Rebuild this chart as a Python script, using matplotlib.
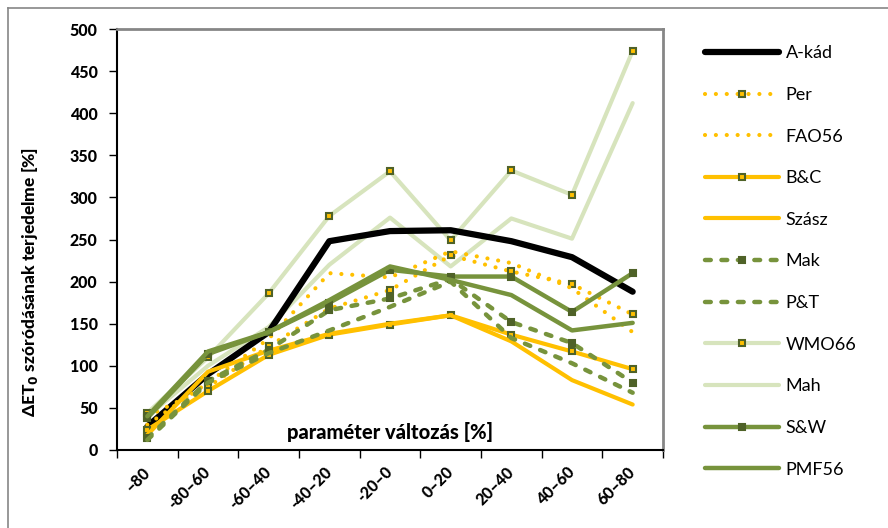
import numpy as np
import matplotlib.pyplot as plt
from matplotlib.lines import Line2D

plt.rcParams['font.family'] = ['Lato', 'DejaVu Sans']

cats = ["–80", "-80–60", "-60–40", "-40–20", "-20–0",
        "0–20", "20–40", "40–60", "60–80"]

akad = [28, 90, 140, 248, 260, 261, 248, 229, 188]
per = [40, 75, 123, 168, 190, 231, 212, 197, 161]
fao56 = [30, 80, 132, 210, 205, 236, 222, 192, 140]
bc = [24, 70, 113, 137, 149, 160, 137, 117, 96]
szasz = [18, 93, 118, 138, 150, 160, 129, 83, 54]
mak = [14, 82, 119, 166, 180, 203, 152, 127, 80]
pt = [12, 80, 115, 142, 170, 200, 133, 103, 68]
wmo66 = [44, 110, 186, 278, 331, 249, 332, 303, 474]
mah = [40, 100, 146, 220, 276, 218, 275, 251, 412]
sw = [38, 114, 140, 175, 214, 206, 206, 164, 210]
pmf56 = [40, 117, 140, 178, 218, 202, 184, 142, 151]

yellow = "#FFC000"
green = "#77933C"
light = "#D7E4BD"
dark = "#4F6228"
bold = "black"  # heaviest face available

fig = plt.figure(figsize=(8.88, 5.28), dpi=100)
ax = fig.add_axes([117/888, 78/528, 546/888, 421/528])
x = np.arange(len(cats))

sq = dict(marker="s", markersize=5, markeredgewidth=1.5, markeredgecolor=dark)
dots = dict(linestyle=(0, (0.01, 2.6)), dash_capstyle="round", lw=3)
dash = dict(linestyle=(0, (1.3, 2.4)), dash_capstyle="round", lw=3.2)

ax.plot(x, wmo66, color=light, lw=3, solid_capstyle="round", markerfacecolor=yellow, label="WMO66", zorder=2, **sq)
ax.plot(x, mah, color=light, lw=3, solid_capstyle="round", label="Mah", zorder=2)
ax.plot(x, akad, color="black", lw=4.5, solid_capstyle="round", label="A-kád", zorder=3)
ax.plot(x, per, color=yellow, markerfacecolor=yellow, label="Per", zorder=4, **sq, **dots)
ax.plot(x, fao56, color=yellow, label="FAO56", zorder=4, **dots)
ax.plot(x, bc, color=yellow, lw=3, solid_capstyle="round", markerfacecolor=yellow, label="B&C", zorder=4, **sq)
ax.plot(x, szasz, color=yellow, lw=3, solid_capstyle="round", label="Szász", zorder=4)
ax.plot(x, mak, color=green, markerfacecolor=dark, label="Mak", zorder=5, **sq, **dash)
ax.plot(x, pt, color=green, label="P&T", zorder=5, **dash)
ax.plot(x, sw, color=green, lw=3.2, solid_capstyle="round", markerfacecolor=dark, label="S&W", zorder=5, **sq)
ax.plot(x, pmf56, color=green, lw=3.2, solid_capstyle="round", label="PMF56", zorder=5)

ax.set_xlim(-0.5, len(cats) - 0.5)
ax.set_ylim(0, 500)
ax.set_yticks(np.arange(0, 501, 50))
ax.set_xticks(np.arange(-0.5, len(cats), 1))
ax.set_xticklabels([])
ax.set_xticks(x, minor=True)
ax.set_xticklabels(cats, minor=True, rotation=45, ha="right", va="center",
                   rotation_mode="anchor", fontweight=bold, fontsize=11.5)
ax.tick_params(axis="x", which="minor", length=0, pad=14)
ax.tick_params(axis="both", which="major", direction="out", length=6,
               width=1, labelsize=11.5)
for t in ax.get_yticklabels():
    t.set_fontweight(bold)
ax.tick_params(axis="y", pad=8)

for s in ["left", "bottom"]:
    ax.spines[s].set_color("black")
    ax.spines[s].set_linewidth(1.5)
for s in ["top", "right"]:
    ax.spines[s].set_color("#868686")
    ax.spines[s].set_linewidth(2)

ax.set_ylabel(r"ΔET$_\mathbf{0}$ szóródásának terjedelme [%]",
              fontweight=bold, fontsize=12.5)
ax.yaxis.set_label_coords(-0.141, 0.40)
ax.text(0.5, 0.043, "paraméter változás [%]", transform=ax.transAxes,
        ha="center", va="center", fontweight=bold, fontsize=14.5)

order = ["A-kád", "Per", "FAO56", "B&C", "Szász", "Mak", "P&T",
         "WMO66", "Mah", "S&W", "PMF56"]
handles, labels = ax.get_legend_handles_labels()
lookup = dict(zip(labels, handles))
fig.legend([lookup[k] for k in order], order, loc="upper left",
           bbox_to_anchor=(698/888, 1 - 38/528), frameon=False,
           fontsize=13, handlelength=4.1, handletextpad=0.35,
           labelspacing=1.42, borderaxespad=0)

# outer chart border
fig.add_artist(Line2D([8/888, 1], [1 - 8/528, 1 - 8/528], color="#868686", lw=1.2))
fig.add_artist(Line2D([8/888, 8/888], [0, 1 - 8/528], color="#868686", lw=1.2))

fig.savefig("out.png", dpi=100)
